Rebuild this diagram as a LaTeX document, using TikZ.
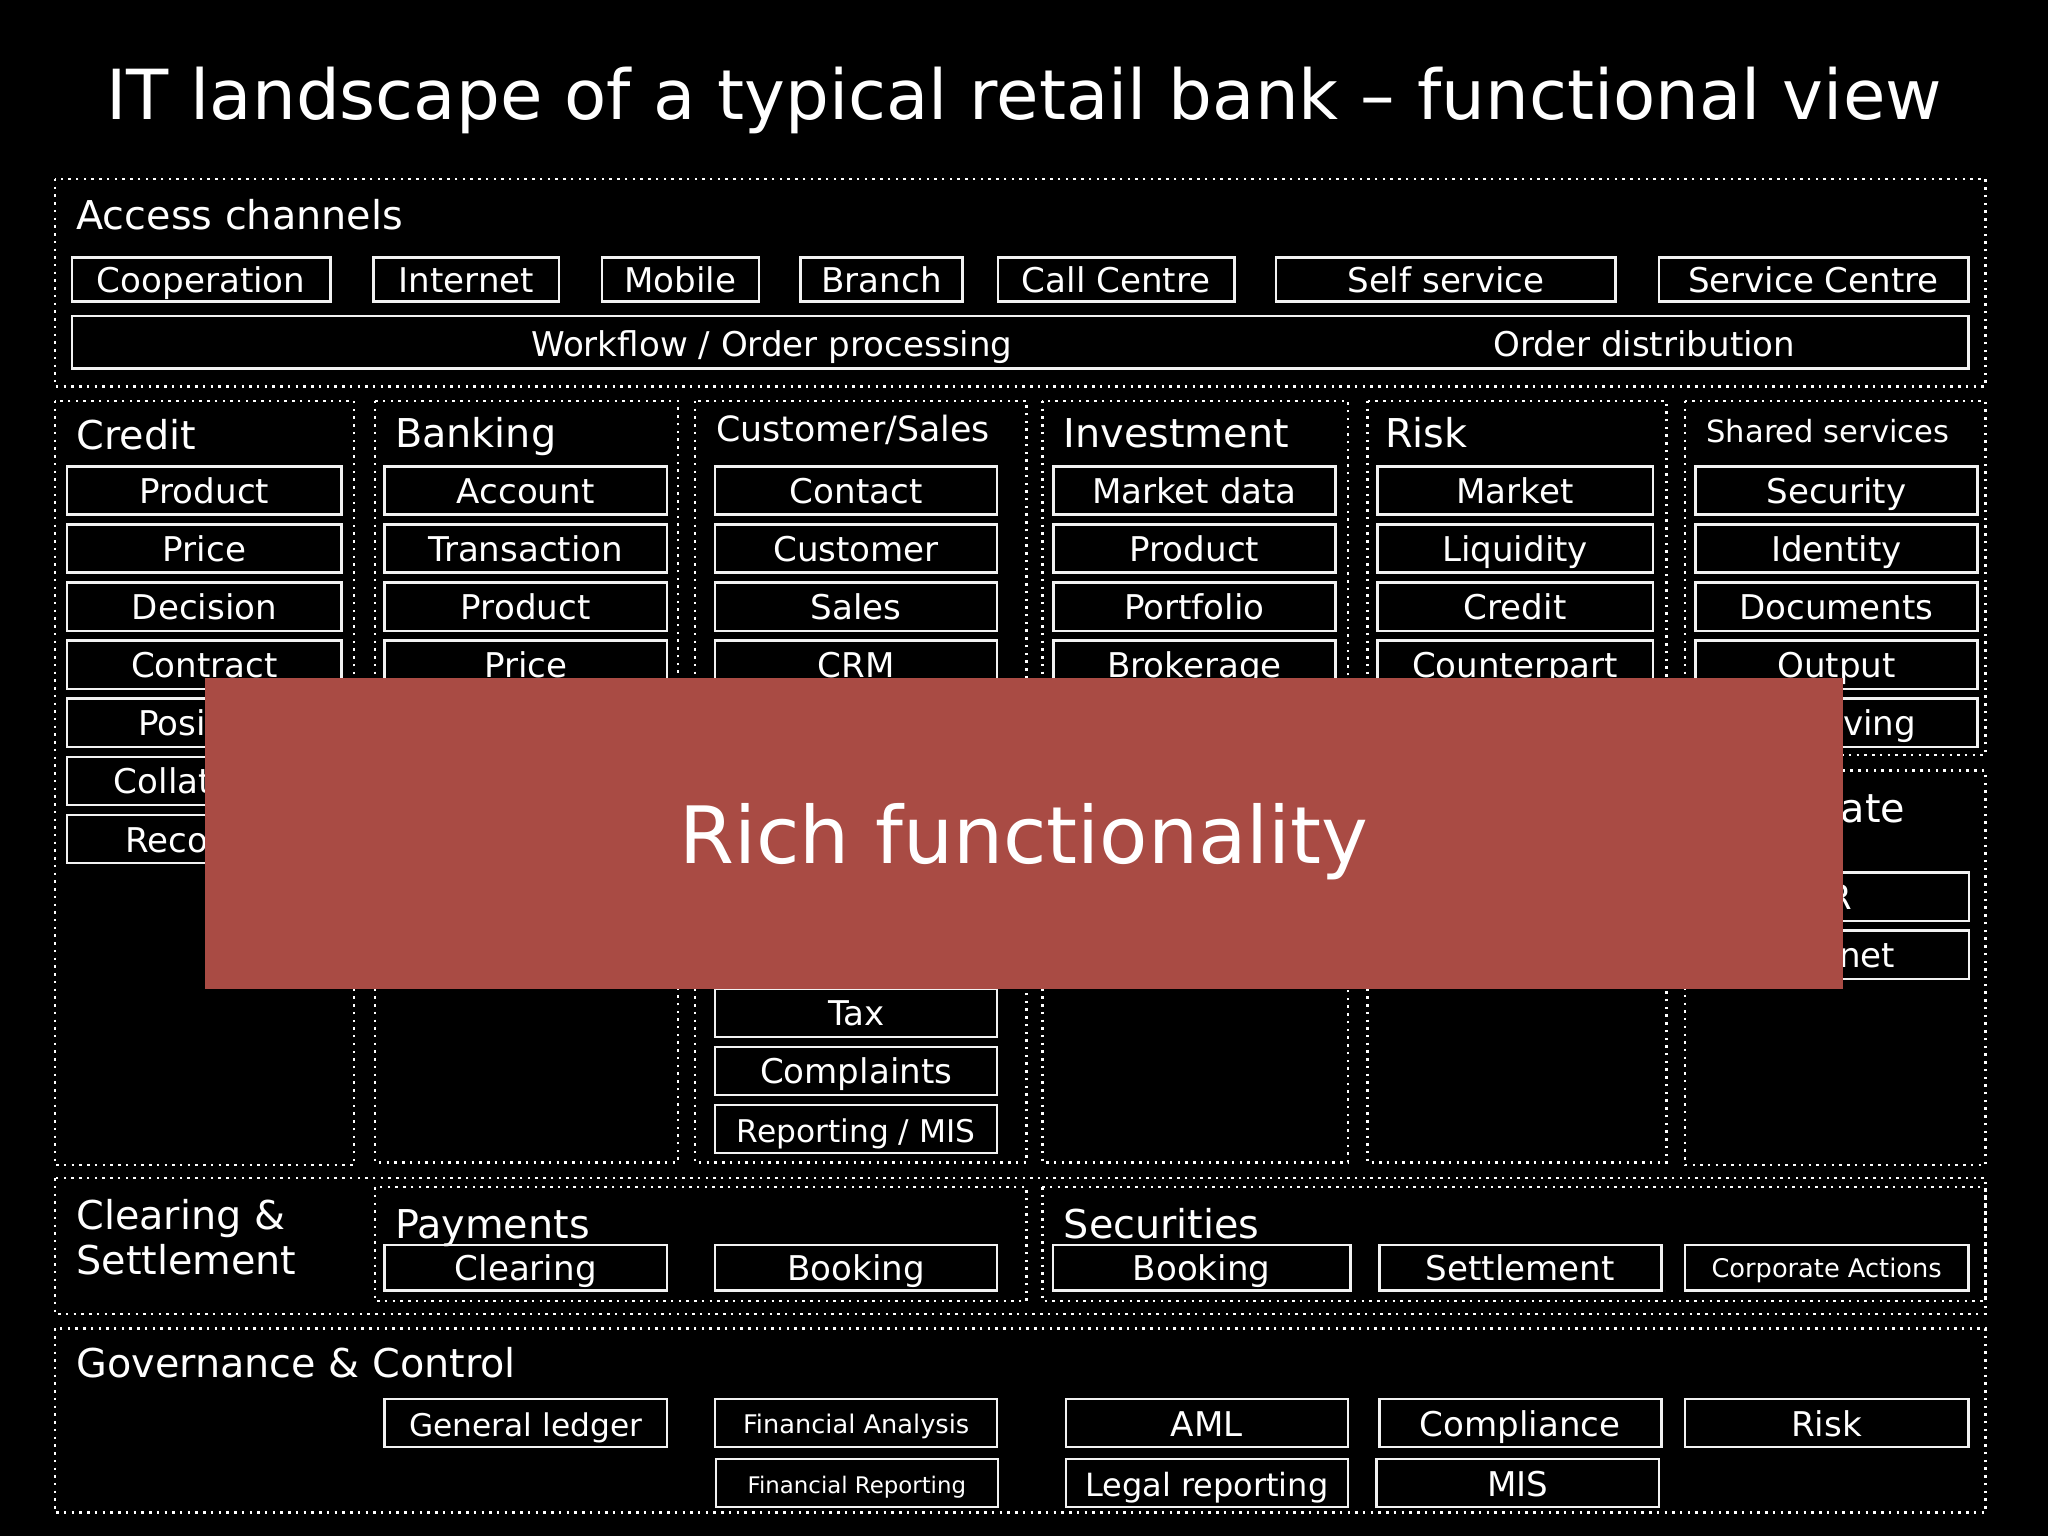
\documentclass[tikz,border=0pt]{standalone}
\usepackage{fontspec}
\setmainfont{DejaVu Sans}
\usetikzlibrary{positioning}
\definecolor{richred}{HTML}{A94B44}
\definecolor{boxline}{HTML}{F2F2F2}
\tikzset{
  box/.style={draw=boxline, line width=0.7pt, rectangle, outer sep=0pt, inner sep=0pt, text=white,
    font=\fontsize{9.7}{11}\selectfont, minimum height=0.483cm, text height=0.84em, text depth=0.1em},
  thinbox/.style={box, minimum height=0.444cm},
  midbox/.style={box, minimum height=0.457cm},
  smalltext/.style={font=\fontsize{7.3}{9}\selectfont, text height=0.76em, text depth=0.17em},
  tighttext/.style={font=\fontsize{8.9}{11}\selectfont},
  region/.style={draw=white, line width=0.7pt, dash pattern=on 0.7pt off 1.5pt},
  heading/.style={anchor=base west, inner sep=0pt, text=white, font=\fontsize{11.3}{13}\selectfont},
  subheading/.style={heading, font=\fontsize{9.9}{13}\selectfont},
  bartext/.style={inner sep=0pt, text=white, font=\fontsize{9.7}{11}\selectfont, text height=0.84em, text depth=0.1em},
  creditcol/.style={box, minimum width=2.743cm},
  stdcol/.style={box, minimum width=2.821cm},
  riskcol/.style={box, minimum width=2.756cm},
  node distance=0.098cm
}
\begin{document}
\begin{tikzpicture}[x=0.0130612cm, y=-0.0130612cm]
\fill[black] (0,0) rectangle (1568,1176);
\useasboundingbox (0,0) rectangle (1568,1176);

% title
\node[text=white, inner sep=0pt, font=\fontsize{19.65}{22}\selectfont] (title) at (784,77) {IT landscape of a typical retail bank – functional view};

% dotted regions
\draw[region] (42,137) rectangle (1520,296);
\draw[region] (42,307) rectangle (271,892);
\draw[region] (287,307) rectangle (519,890);
\draw[region] (532,307) rectangle (786,890);
\draw[region] (798,307) rectangle (1032,890);
\draw[region] (1047,307) rectangle (1276,890);
\draw[region] (1290,307) rectangle (1520,578);
\draw[region] (1290,590) rectangle (1520,892);
\draw[region] (42,902) rectangle (1520,1006);
\draw[region] (287,909) rectangle (786,996);
\draw[region] (798,909) rectangle (1520,996);
\draw[region] (42,1017) rectangle (1520,1158);

% access channels
\node[heading] (access) at (58,176) {Access channels};
\node[thinbox, minimum width=2.586cm] (cooperation) at (154,214) {Cooperation};
\node[thinbox, minimum width=1.855cm] (internet) at (357,214) {Internet};
\node[thinbox, minimum width=1.567cm] (mobile) at (521,214) {Mobile};
\node[thinbox, minimum width=1.620cm] (branch) at (675,214) {Branch};
\node[thinbox, minimum width=2.364cm] (callcentre) at (854.5,214) {Call Centre};
\node[thinbox, minimum width=3.396cm] (selfservice) at (1107,214) {Self service};
\node[thinbox, minimum width=3.095cm] (servicecentre) at (1388.5,214) {Service Centre};
\node[box, minimum width=18.965cm, minimum height=0.522cm] (workflowbar) at (781,262) {};
\node[bartext] (workflow) at (591,263) {Workflow / Order processing};
\node[bartext] (distribution) at (1259,263) {Order distribution};

% credit
\node[heading] (credit) at (58,344) {Credit};
\node[creditcol] (creditproduct) at (156.5,375.5) {Product};
\node[creditcol, below=of creditproduct] (creditprice) {Price};
\node[creditcol, below=of creditprice] (decision) {Decision};
\node[creditcol, below=of decision] (contract) {Contract};
\node[creditcol, below=of contract] (position) {Position};
\node[creditcol, below=of position] (collateral) {Collaterals};
\node[creditcol, below=of collateral] (recovery) {Recovery};

% banking
\node[heading] (banking) at (302,343) {Banking};
\node[stdcol] (account) at (402.5,375.5) {Account};
\node[stdcol, below=of account] (transaction) {Transaction};
\node[stdcol, below=of transaction] (bankproduct) {Product};
\node[stdcol, below=of bankproduct] (bankprice) {Price};

% customer/sales
\node[subheading] (customersales) at (548,338) {Customer/Sales};
\node[stdcol] (contact) at (655.5,375.5) {Contact};
\node[stdcol, below=of contact] (customer) {Customer};
\node[stdcol, below=of customer] (sales) {Sales};
\node[stdcol, below=of sales] (crm) {CRM};
\node[stdcol] (tax) at (655.5,775.5) {Tax};
\node[stdcol, below=of tax] (complaints) {Complaints};
\node[stdcol, tighttext, below=of complaints] (reporting) {Reporting / MIS};

% investment
\node[heading] (investment) at (814,343) {Investment};
\node[stdcol] (marketdata) at (914.5,375.5) {Market data};
\node[stdcol, below=of marketdata] (invproduct) {Product};
\node[stdcol, below=of invproduct] (portfolio) {Portfolio};
\node[stdcol, below=of portfolio] (brokerage) {Brokerage};

% risk
\node[heading] (risk) at (1060,343) {Risk};
\node[riskcol] (market) at (1160,375.5) {Market};
\node[riskcol, below=of market] (liquidity) {Liquidity};
\node[riskcol, below=of liquidity] (riskcredit) {Credit};
\node[riskcol, below=of riskcredit] (counterpart) {Counterpart};

% shared services
\node[subheading, font=\fontsize{8.7}{10}\selectfont] (shared) at (1306,339) {Shared services};
\node[stdcol] (security) at (1406,375.5) {Security};
\node[stdcol, below=of security] (identity) {Identity};
\node[stdcol, below=of identity] (documents) {Documents};
\node[stdcol, below=of documents] (output) {Output};
\node[stdcol, below=of output] (archiving) {Archiving};

% corporate
\node[heading] (corporate) at (1306,630) {Corporate};
\node[stdcol, minimum width=2.834cm] (hr) at (1399,686.5) {HR};
\node[stdcol, minimum width=2.834cm, below=of hr] (intranet) {Intranet};

% clearing and settlement
\node[heading, align=left] (clearinghead) at (58,976) {Clearing \&\\Settlement};
\node[heading] (payments) at (302,948) {Payments};
\node[heading] (securities) at (814,948) {Securities};
\node[midbox, minimum width=2.821cm] (clearing) at (402.5,970.5) {Clearing};
\node[midbox, minimum width=2.821cm] (paybooking) at (655.5,970.5) {Booking};
\node[midbox, minimum width=2.978cm] (secbooking) at (920,970.5) {Booking};
\node[midbox, minimum width=2.821cm] (settlement) at (1164,970.5) {Settlement};
\node[midbox, smalltext, minimum width=2.834cm] (corpactions) at (1398.5,970.5) {Corporate Actions};

% governance
\node[heading] (governance) at (58,1055) {Governance \& Control};
\node[stdcol, tighttext] (ledger) at (402.5,1089.5) {General ledger};
\node[stdcol, smalltext] (finanalysis) at (655.5,1089.5) {Financial Analysis};
\node[stdcol] (aml) at (924,1089.5) {AML};
\node[stdcol] (compliance) at (1164,1089.5) {Compliance};
\node[stdcol, minimum width=2.834cm] (govrisk) at (1398.5,1089.5) {Risk};
\node[stdcol, smalltext, font=\fontsize{6.5}{8}\selectfont] (finreporting) at (656,1135.5) {Financial Reporting};
\node[stdcol, font=\fontsize{9.1}{11}\selectfont] (legal) at (924,1135.5) {Legal reporting};
\node[riskcol, minimum width=2.821cm] (mis) at (1162,1135.5) {MIS};

% overlay
\node[rectangle, fill=richred, inner sep=0pt, minimum width=16.379cm, minimum height=3.109cm, text=white,
  font=\fontsize{22.5}{27}\selectfont, text height=18pt, text depth=0.9pt] (rich) at (784,638) {Rich functionality};
\end{tikzpicture}
\end{document}
